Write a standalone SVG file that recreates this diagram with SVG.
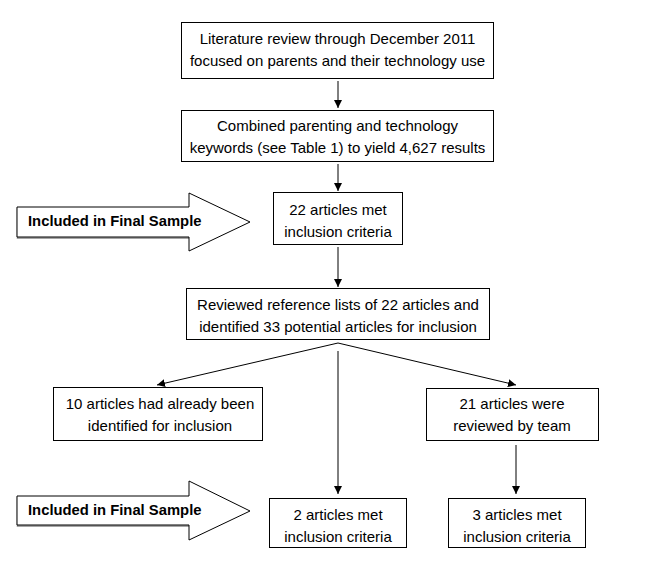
<svg xmlns="http://www.w3.org/2000/svg" width="662" height="570" viewBox="0 0 662 570">
<defs>
<style>
.box{fill:#fff;stroke:#000;stroke-width:1}
.t{font-family:"Liberation Sans",Arial,sans-serif;font-size:15px;fill:#000;text-anchor:middle}
.b{font-family:"Liberation Sans",Arial,sans-serif;font-size:14.8px;font-weight:bold;fill:#000}
.c{stroke:#000;stroke-width:1;fill:none;marker-end:url(#ah)}
.big{fill:#fff;stroke:#000;stroke-width:1}
.sh{fill:none;stroke:#888;stroke-width:1.5}
</style>
<marker id="ah" markerUnits="userSpaceOnUse" markerWidth="8" markerHeight="8" refX="8" refY="4" orient="auto">
<path d="M0,0 L8,4 L0,8 z" fill="#000"/>
</marker>
</defs>
<rect width="662" height="570" fill="#fff"/>
<g id="connectors">
<line class="c" x1="338" y1="81" x2="338" y2="108"/>
<line class="c" x1="338" y1="164" x2="338" y2="191"/>
<line class="c" x1="338" y1="247" x2="338" y2="287"/>
<line class="c" x1="338" y1="343" x2="157" y2="385"/>
<line class="c" x1="338" y1="343" x2="516" y2="385"/>
<line class="c" x1="338" y1="351" x2="338" y2="494"/>
<line class="c" x1="516" y1="445" x2="516" y2="494"/>
</g>
<g id="final1">
<polyline class="sh" points="17.5,208 17.5,238 189,238"/>
<polygon class="big" points="17,207 189,207 189,193 250,222 189,251 189,237 17,237"/>
<text class="b" x="28" y="226">Included in Final Sample</text>
</g>
<g id="final2">
<polyline class="sh" points="17.5,497 17.5,526 189,526"/>
<polygon class="big" points="17,496 189,496 189,481 250,511 189,540 189,525 17,525"/>
<text class="b" x="28" y="515">Included in Final Sample</text>
</g>
<g id="n1">
<rect class="box" x="181.5" y="22.5" width="312" height="56"/>
<text class="t" x="337.5" y="44">Literature review through December 2011</text>
<text class="t" x="337.5" y="66">focused on parents and their technology use</text>
</g>
<g id="n2">
<rect class="box" x="181.5" y="110.5" width="312" height="51"/>
<text class="t" x="337.5" y="131">Combined parenting and technology</text>
<text class="t" x="337.5" y="153">keywords (see Table 1) to yield 4,627 results</text>
</g>
<g id="n3">
<rect class="box" x="273.5" y="192.5" width="129" height="52"/>
<text class="t" x="338" y="215">22 articles met</text>
<text class="t" x="338" y="237">inclusion criteria</text>
</g>
<g id="n4">
<rect class="box" x="186.5" y="288.5" width="303" height="51"/>
<text class="t" x="338" y="310">Reviewed reference lists of 22 articles and</text>
<text class="t" x="338" y="332">identified 33 potential articles for inclusion</text>
</g>
<g id="n5">
<rect class="box" x="53.5" y="387.5" width="209" height="53"/>
<text class="t" x="160" y="409">10 articles had already been</text>
<text class="t" x="160" y="431">identified for inclusion</text>
</g>
<g id="n6">
<rect class="box" x="426.5" y="388.5" width="172" height="52"/>
<text class="t" x="512" y="409">21 articles were</text>
<text class="t" x="512" y="431">reviewed by team</text>
</g>
<g id="n7">
<rect class="box" x="269.5" y="498.5" width="137" height="49"/>
<text class="t" x="338" y="520">2 articles met</text>
<text class="t" x="338" y="542">inclusion criteria</text>
</g>
<g id="n8">
<rect class="box" x="448.5" y="498.5" width="137" height="49"/>
<text class="t" x="517" y="520">3 articles met</text>
<text class="t" x="517" y="542">inclusion criteria</text>
</g>
</svg>
